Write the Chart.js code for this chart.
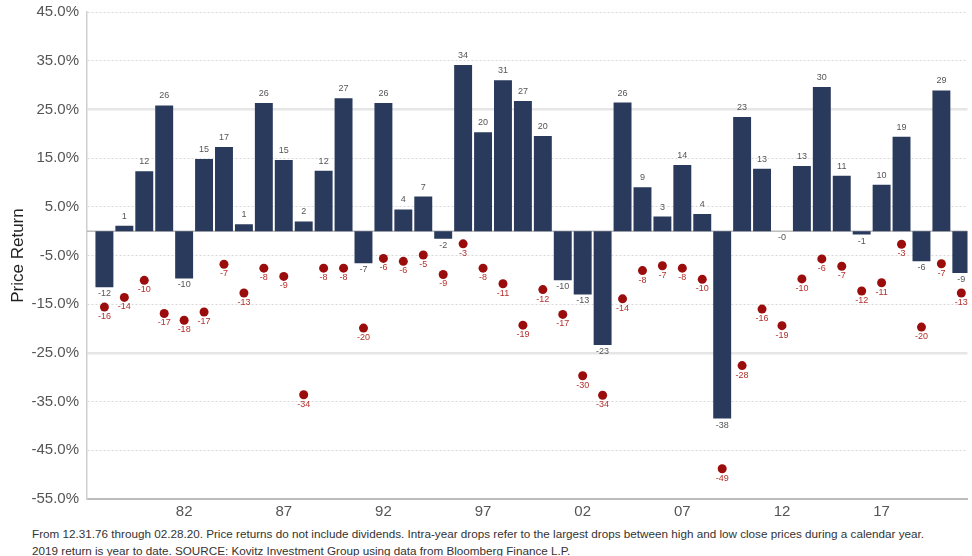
<!DOCTYPE html>
<html>
<head>
<meta charset="utf-8">
<script src="https://cdn.jsdelivr.net/npm/chart.js@4.4.1/dist/chart.umd.min.js"></script>
<style>
  html, body { margin: 0; padding: 0; background: #fff; overflow: hidden; }
  .chart-wrap { position: absolute; left: 0; top: -5px; width: 972px; height: 523px; }
  .footnote {
    position: absolute; left: 32px; top: 526px;
    font-family: "Liberation Sans", Arial, sans-serif; font-size: 11.7px; line-height: 16.5px;
    color: #333; white-space: nowrap;
  }
</style>
</head>
<body>
<div class="chart-wrap"><canvas id="returnsChart"></canvas></div>
<div class="footnote">From 12.31.76 through 02.28.20. Price returns do not include dividends. Intra-year drops refer to the largest drops between high and low close prices during a calendar year.<br>2019 return is year to date. SOURCE: Kovitz Investment Group using data from Bloomberg Finance L.P.</div>
<script>
// Calendar years shown as bars (last one cut off at the right edge)
const years = [
  1977, 1978, 1979, 1980, 1981, 1982, 1983, 1984, 1985, 1986, 1987,
  1988, 1989, 1990, 1991, 1992, 1993, 1994, 1995, 1996, 1997, 1998,
  1999, 2000, 2001, 2002, 2003, 2004, 2005, 2006, 2007, 2008, 2009,
  2010, 2011, 2012, 2013, 2014, 2015, 2016, 2017, 2018, 2019, 2020
];

// Annual price return (%)
const annualReturns = [
  -11.5, 1.1, 12.3, 25.8, -9.7, 14.8, 17.3, 1.4, 26.3, 14.6, 2.0,
  12.4, 27.3, -6.6, 26.3, 4.46, 7.1, -1.54, 34.1, 20.3, 31.0, 26.7,
  19.53, -10.1, -13.0, -23.4, 26.4, 9.0, 3.0, 13.6, 3.53, -38.49, 23.45,
  12.8, -0.003, 13.4, 29.6, 11.4, -0.7, 9.54, 19.4, -6.2, 28.9, -8.6
];

// Largest intra-year drop (%)
const intraYearDrops = [
  -15.6, -13.6, -10.1, -16.9, -18.3, -16.6, -6.8, -12.7, -7.6, -9.3, -33.6,
  -7.6, -7.6, -19.9, -5.6, -6.2, -4.9, -8.9, -2.6, -7.6, -10.8, -19.3,
  -12.0, -17.1, -29.7, -33.7, -13.9, -8.1, -7.1, -7.6, -9.9, -48.8, -27.6,
  -16.0, -19.4, -9.8, -5.7, -7.2, -12.3, -10.6, -2.7, -19.7, -6.7, -12.7
];

// x-axis labels as printed on the original
const tickYears = [1981, 1986, 1991, 1996, 2001, 2006, 2011, 2016];
const tickText = ['82', '87', '92', '97', '02', '07', '12', '17'];

const FONT = '"Liberation Sans", Arial, sans-serif';

// Zero line + value labels above/below bars and under the dots
const valueLabels = {
  id: 'valueLabels',
  beforeDatasetsDraw(chart) {
    const { ctx, chartArea, scales } = chart;
    const y0 = scales.y.getPixelForValue(0);
    ctx.save();
    ctx.strokeStyle = '#9a9a9a';
    ctx.lineWidth = 1;
    ctx.beginPath();
    ctx.moveTo(chartArea.left, y0);
    ctx.lineTo(chartArea.right, y0);
    ctx.stroke();
    ctx.restore();
  },
  afterDatasetsDraw(chart) {
    const { ctx } = chart;
    ctx.save();
    ctx.font = '9px ' + FONT;
    ctx.textAlign = 'center';

    // bar labels
    chart.getDatasetMeta(0).data.forEach((el, i) => {
      const v = annualReturns[i];
      ctx.fillStyle = '#555';
      if (v < 0) {
        ctx.textBaseline = 'top';
        ctx.fillText(v.toFixed(0), el.x, el.y + 2);
      } else {
        ctx.textBaseline = 'bottom';
        ctx.fillText(v.toFixed(0), el.x, el.y - 5);
      }
    });

    // drop labels
    chart.getDatasetMeta(1).data.forEach((el, i) => {
      ctx.fillStyle = '#b3302c';
      ctx.textBaseline = 'top';
      ctx.fillText(intraYearDrops[i].toFixed(0), el.x, el.y + 5);
    });
    ctx.restore();
  }
};

function isMajor(ctx) {
  return ctx.tick && Math.abs(ctx.tick.value) === 25;
}

function buildChart() {
  const ctx = document.getElementById('returnsChart').getContext('2d');

  new Chart(ctx, {
    type: 'bar',
    data: {
      datasets: [{
        type: 'bar',
        label: 'Price Return',
        data: years.map((yr, i) => ({ x: yr, y: annualReturns[i] })),
        backgroundColor: '#2a3a5c',
        borderWidth: 0,
        barPercentage: 0.9,
        categoryPercentage: 1.0,
        order: 2
      }, {
        type: 'line',
        label: 'Intra-year drop',
        data: years.map((yr, i) => ({ x: yr, y: intraYearDrops[i] })),
        showLine: false,
        pointRadius: 4.5,
        pointBackgroundColor: '#9b0d0d',
        pointBorderWidth: 0,
        order: 1
      }]
    },
    options: {
      responsive: true,
      maintainAspectRatio: false,
      animation: false,
      layout: { padding: { top: 7, right: 0, bottom: 0, left: 0 } },
      plugins: {
        legend: { display: false },
        tooltip: { enabled: false }
      },
      scales: {
        x: {
          type: 'linear',
          offset: false,
          min: 1976.126,
          max: 2020.31,
          grid: { display: false, offset: false, drawTicks: false },
          border: { display: true, color: '#bcbcbc', width: 2 },
          afterBuildTicks: (scale) => {
            scale.ticks = tickYears.map(v => ({ value: v }));
          },
          afterFit: (scale) => { scale.height = 19; },
          ticks: {
            autoSkip: false,
            maxRotation: 0,
            padding: 4,
            color: '#555',
            font: { family: FONT, size: 15 },
            callback: (value) => tickText[tickYears.indexOf(value)]
          }
        },
        y: {
          min: -55,
          max: 45,
          afterFit: (scale) => { scale.width = 87; },
          ticks: {
            stepSize: 10,
            padding: 8,
            color: '#555',
            font: { family: FONT, size: 15 },
            callback: (value) => value.toFixed(1) + '%'
          },
          grid: {
            drawTicks: false,
            color: (c) => isMajor(c) ? '#e6e6e6' : '#d8d8d8',
            lineWidth: (c) => isMajor(c) ? 2.5 : 1
          },
          border: {
            display: true,
            color: '#cfcfcf',
            width: 1.5,
            dash: (c) => isMajor(c) ? [] : [2, 2]
          },
          title: {
            display: true,
            text: 'Price Return',
            color: '#222',
            font: { family: FONT, size: 17 },
            padding: { top: 8, bottom: 0 }
          }
        }
      }
    },
    plugins: [valueLabels]
  });
}

document.addEventListener('DOMContentLoaded', () => {
  buildChart();
});
</script>
</body>
</html>
